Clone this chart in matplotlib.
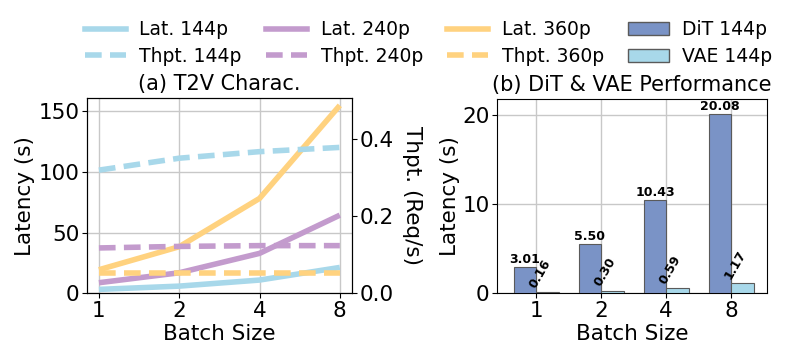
import numpy as np
import matplotlib
matplotlib.use("Agg")
import matplotlib.pyplot as plt
from matplotlib.lines import Line2D
from matplotlib.patches import Patch

batch_sizes = ["1", "2", "4", "8"]

# latency (s) per resolution
lat_144p = [3.3, 6.0, 11.0, 21.4]
lat_240p = [8.8, 17.0, 33.0, 64.5]
lat_360p = [19.5, 38.5, 78.3, 155.0]

# throughput (req/s)
thpt_144p = [0.320, 0.351, 0.368, 0.379]
thpt_240p = [0.118, 0.122, 0.124, 0.124]
thpt_360p = [0.052, 0.052, 0.052, 0.052]

# DiT / VAE latency at 144p
dit_144p = [3.01, 5.50, 10.43, 20.08]
vae_144p = [0.16, 0.30, 0.59, 1.17]

c_blue = "#a8d8ea"
c_purple = "#c39bcd"
c_yellow = "#ffd27f"
c_dit = "#7a93c6"
c_edge = "#5a5a5a"

fs_tick = 15.5
fs_label = 15.5
fs_title = 15

fig = plt.figure(figsize=(7.97, 3.6), dpi=100)

ax1 = fig.add_axes([0.109, 0.185, 0.3325, 0.5425])
ax2 = ax1.twinx()
x = np.arange(len(batch_sizes))

lw = 4
dash = (0, (3, 1.5))
ax1.plot(x, lat_144p, color=c_blue, lw=lw, solid_capstyle="butt")
ax1.plot(x, lat_240p, color=c_purple, lw=lw, solid_capstyle="butt")
ax1.plot(x, lat_360p, color=c_yellow, lw=lw, solid_capstyle="butt")
ax2.plot(x, thpt_144p, color=c_blue, lw=lw, ls=dash)
ax2.plot(x, thpt_240p, color=c_purple, lw=lw, ls=dash)
ax2.plot(x, thpt_360p, color=c_yellow, lw=lw, ls=dash)

ax1.set_xlim(-0.15, 3.15)
ax1.set_ylim(0, 161)
ax2.set_ylim(0, 0.507)
ax1.set_xticks(x)
ax1.set_xticklabels(batch_sizes)
ax1.set_yticks([0, 50, 100, 150])
ax2.set_yticks([0.0, 0.2, 0.4])
ax1.grid(True, color="#c8c8c8", lw=1)
ax1.set_axisbelow(True)
ax1.tick_params(labelsize=fs_tick, pad=2)
ax2.tick_params(labelsize=fs_tick, pad=2)
ax1.set_xlabel("Batch Size", fontsize=fs_label, labelpad=2)
ax1.set_ylabel("Latency (s)", fontsize=fs_label, labelpad=2)
ax2.set_ylabel("Thpt. (Req/s)", fontsize=fs_label, rotation=270, labelpad=20)
ax1.set_title("(a) T2V Charac.", fontsize=fs_title, pad=6)

ax3 = fig.add_axes([0.624, 0.185, 0.3384, 0.54])
w = 0.35
ax3.bar(x - w / 2, dit_144p, w, color=c_dit, edgecolor=c_edge, lw=0.8, zorder=3)
ax3.bar(x + w / 2, vae_144p, w, color=c_blue, edgecolor=c_edge, lw=0.8, zorder=3)
for i in range(len(x)):
    ax3.text(x[i] - w / 2, dit_144p[i] + 0.1, f"{dit_144p[i]:.2f}", ha="center",
             va="bottom", fontsize=9, fontweight="bold")
    ax3.text(x[i] + 0.03, vae_144p[i] + 0.2, f"{vae_144p[i]:.2f}", ha="left",
             va="bottom", fontsize=9, fontweight="bold", rotation=60,
             rotation_mode="anchor")
ax3.set_xlim(-0.6, 3.55)
ax3.set_ylim(0, 21.8)
ax3.set_xticks(x)
ax3.set_xticklabels(batch_sizes)
ax3.set_yticks([0, 10, 20])
ax3.grid(True, color="#c8c8c8", lw=1)
ax3.set_axisbelow(True)
ax3.tick_params(labelsize=fs_tick, pad=2)
ax3.set_xlabel("Batch Size", fontsize=fs_label, labelpad=2)
ax3.set_ylabel("Latency (s)", fontsize=fs_label, labelpad=2)
ax3.set_title("(b) DiT & VAE Performance", fontsize=fs_title, pad=6)

handles = [
    Line2D([], [], color=c_blue, lw=lw), Line2D([], [], color=c_blue, lw=lw, ls=dash),
    Line2D([], [], color=c_purple, lw=lw), Line2D([], [], color=c_purple, lw=lw, ls=dash),
    Line2D([], [], color=c_yellow, lw=lw), Line2D([], [], color=c_yellow, lw=lw, ls=dash),
    Patch(facecolor=c_dit, edgecolor=c_edge), Patch(facecolor=c_blue, edgecolor=c_edge),
]
labels = ["Lat. 144p", "Thpt. 144p", "Lat. 240p", "Thpt. 240p",
          "Lat. 360p", "Thpt. 360p", "DiT 144p", "VAE 144p"]
fig.legend(handles, labels, ncol=4, loc="upper center", bbox_to_anchor=(0.538, 0.99),
           frameon=False, fontsize=13.5, columnspacing=1.3, handlelength=2.2,
           handletextpad=0.7, labelspacing=0.4)

fig.savefig("out.png", dpi=100)
